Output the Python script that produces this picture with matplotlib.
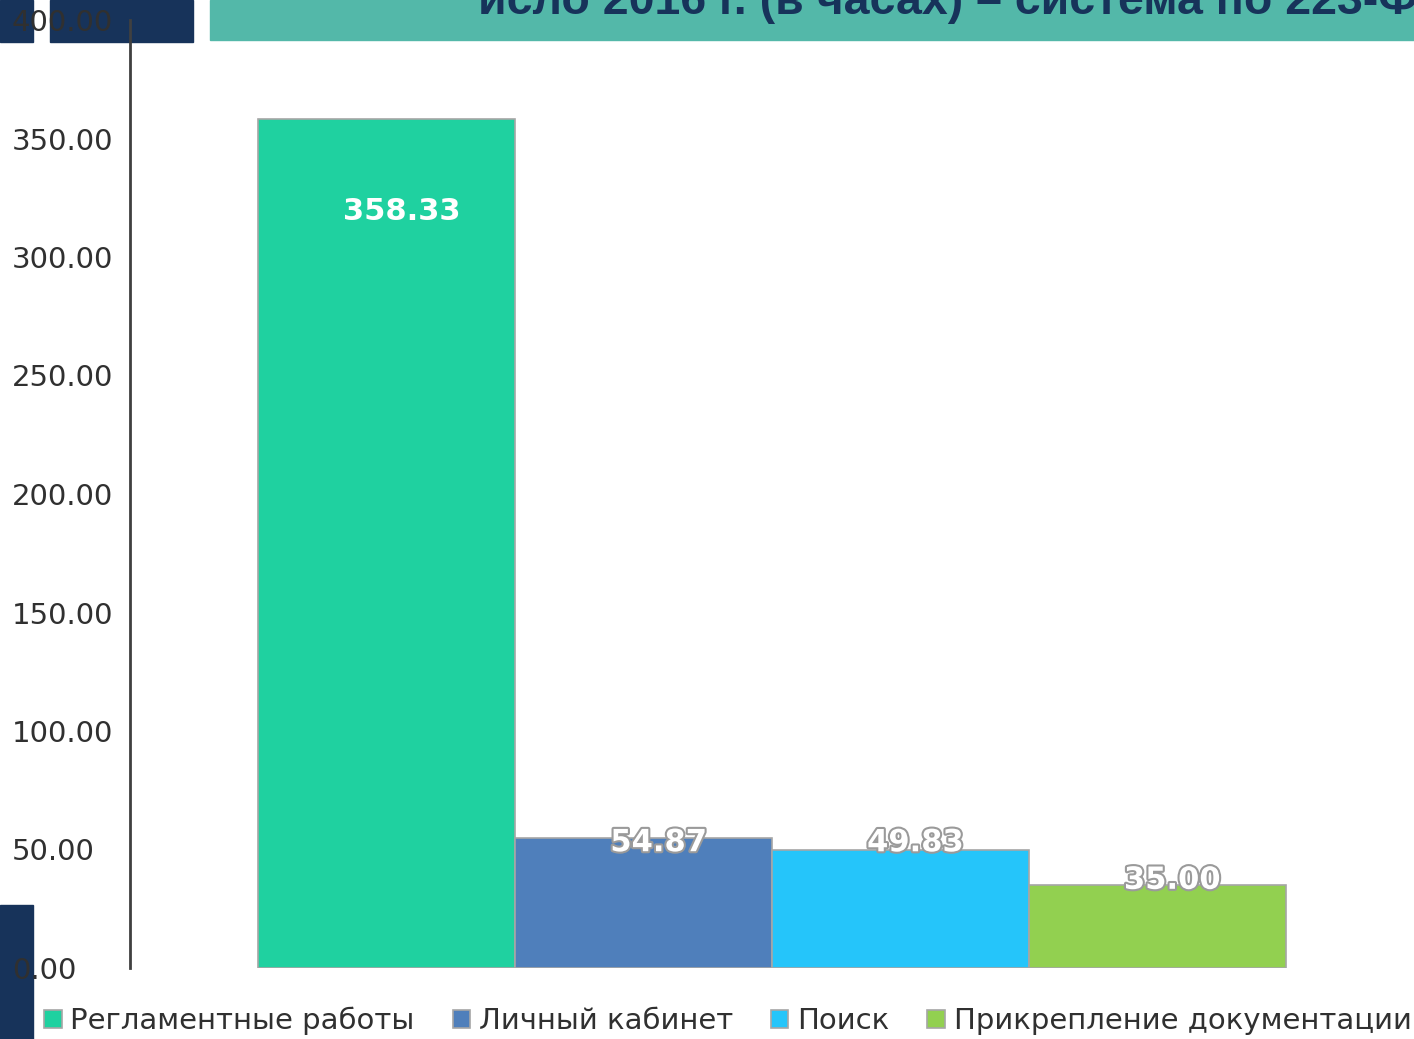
import matplotlib.pyplot as plt
import matplotlib.patheffects as pe
from matplotlib.patches import Rectangle
from matplotlib.transforms import offset_copy

plt.rcParams['font.family'] = ['DejaVu Sans']

categories = ['Регламентные работы', 'Личный кабинет', 'Поиск',
              'Прикрепление документации']
hours = [358.33, 54.87, 49.83, 35.00]
bar_colors = ['#1fd1a0', '#4f7fbb', '#25c5fa', '#92d050']
label_shift = [-39, -2, 3, 2]
yticks = [0, 50, 100, 150, 200, 250, 300, 350, 400]
title = 'исло 2016 г. (в часах) – система по 223-ФЗ'

W, H = 1414, 1039
fig = plt.figure(figsize=(W / 100, H / 100), dpi=100)

# slide decoration: navy blocks and teal header strip
navy = '#17335a'
for x0, y0, w, h in [(0, 0, 33, 42), (50, 0, 143, 42), (0, 905, 33, 134)]:
    fig.patches.append(Rectangle((x0 / W, 1 - (y0 + h) / H), w / W, h / H,
                                 transform=fig.transFigure, color=navy, zorder=-5))
fig.patches.append(Rectangle((210 / W, 1 - 40 / H), (W - 210) / W, 40 / H,
                             transform=fig.transFigure, color='#53b8a9', zorder=-5))
fig.text(478 / W, 1 - 14 / H, title, fontsize=33.5, fontweight='bold',
         color=navy, family=['Liberation Sans', 'DejaVu Sans'],
         ha='left', va='baseline')

ax = fig.add_axes([130 / W, 71 / H, (W - 130) / W, (968 - 20) / H])
ax.set_zorder(1)
ax.patch.set_alpha(0)
x = range(len(hours))
ax.bar(x, hours, width=1.0, color=bar_colors, edgecolor='#a6a6a6',
       linewidth=1.2, label=categories)
ax.set_xlim(-1.0, 4.0)
ax.set_ylim(0, 400)

for s in ['top', 'right', 'bottom']:
    ax.spines[s].set_visible(False)
ax.spines['left'].set_color('#404040')
ax.spines['left'].set_linewidth(2)
ax.set_xticks([])
ax.set_yticks(yticks)
ax.set_yticklabels([f'{v:.2f}' for v in yticks])
ax.tick_params(axis='y', length=0, labelsize=21, labelcolor='#303030', pad=0)
for lab in ax.get_yticklabels():
    lab.set_horizontalalignment('left')
    lab.set_x(-118 / (W - 130))

# value labels sit a little right of each bar centre
shifted = offset_copy(ax.transData, fig=fig, x=15, y=0, units='dots')
for i, (v, d) in enumerate(zip(hours, label_shift)):
    t = ax.text(i, v + d, f'{v:.2f}', ha='center', va='center',
                fontsize=22, fontweight='bold', color='white',
                transform=shifted)
    if i > 0:
        t.set_path_effects([pe.withStroke(linewidth=3, foreground='#9a9a9a')])

handles = ax.patches
fig.legend(handles, categories, loc='center left',
           bbox_to_anchor=(44 / W, 1 - 1021 / H), ncol=4, frameon=False,
           fontsize=21, handlelength=0.6, handleheight=0.6,
           handletextpad=0.3, columnspacing=1.3, borderaxespad=0,
           borderpad=0, labelcolor='#303030')

fig.savefig('out.png', dpi=100)
